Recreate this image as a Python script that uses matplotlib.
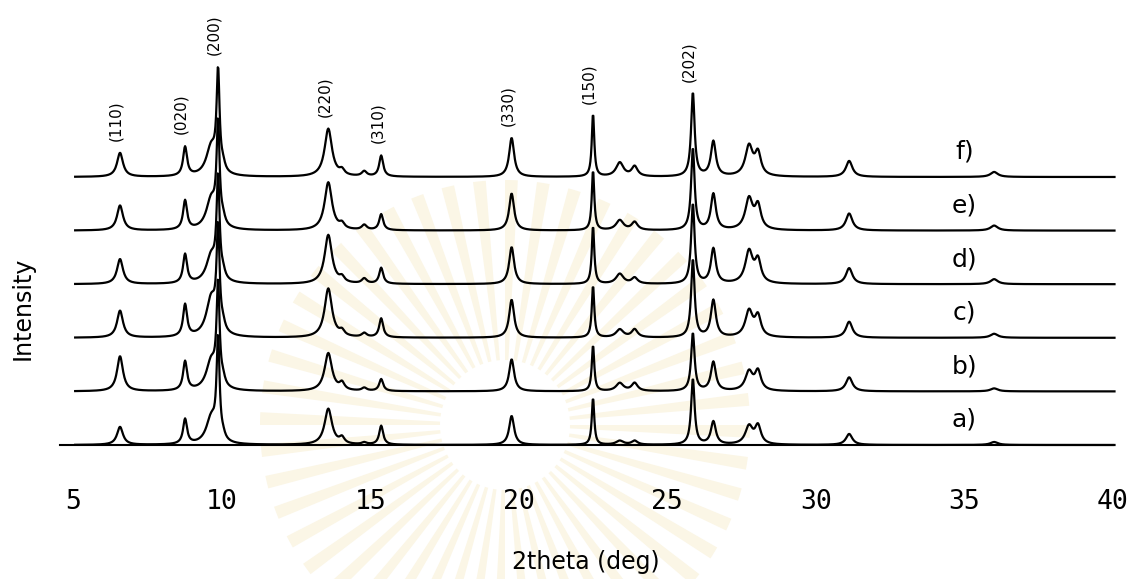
import numpy as np
import matplotlib.pyplot as plt
from matplotlib.patches import Wedge

# reflections seen in every pattern: position (2theta, deg) and half width
peak_pos = [6.58, 8.77, 9.65, 9.88, 10.05, 13.59, 14.05, 14.80, 15.37, 19.76,
            22.50, 23.40, 23.90, 25.86, 26.55, 27.75, 28.05, 31.12, 36.00]
peak_hwhm = [0.12, 0.08, 0.20, 0.06, 0.08, 0.15, 0.10, 0.10, 0.08, 0.10,
             0.05, 0.15, 0.12, 0.07, 0.10, 0.15, 0.12, 0.13, 0.15]

# peak heights for each sample
height_a = [18, 25, 26, 100, 4, 36, 6, 2, 19, 29, 47, 4, 4, 66, 23, 18, 18, 11, 3]
height_b = [35, 29, 29, 100, 6, 38, 7, 3, 12, 32, 46, 8, 8, 58, 29, 19, 19, 14, 3]
height_c = [27, 32, 38, 100, 6, 49, 5, 4, 19, 38, 52, 8, 8, 78, 37, 26, 20, 16, 4]
height_d = [25, 29, 27, 100, 6, 49, 5, 5, 16, 37, 58, 10, 6, 80, 35, 32, 22, 16, 5]
height_e = [25, 29, 30, 100, 6, 48, 5, 5, 16, 37, 60, 10, 8, 82, 36, 31, 23, 17, 5]
height_f = [24, 29, 29, 98, 6, 48, 5, 5, 21, 39, 63, 14, 10, 84, 35, 30, 22, 16, 5]

samples = ["a)", "b)", "c)", "d)", "e)", "f)"]
heights = [height_a, height_b, height_c, height_d, height_e, height_f]

hkl_labels = ["(110)", "(020)", "(200)", "(220)", "(310)", "(330)", "(150)", "(202)"]
hkl_pos = [6.58, 8.77, 9.88, 13.59, 15.37, 19.76, 22.50, 25.86]

tick_vals = [5, 10, 15, 20, 25, 30, 35, 40]

offset_step = 53.6


def pattern(tth, h):
    y = np.zeros_like(tth)
    for x0, w, a in zip(peak_pos, peak_hwhm, h):
        y += a / (1 + ((tth - x0) / w) ** 2)
    return y


fig = plt.figure(figsize=(11.31, 5.79), dpi=100)

# faint emblem behind the plot
bg = fig.add_axes([0, 0, 1, 1], zorder=-1)
bg.set_xlim(0, 1131)
bg.set_ylim(579, 0)
bg.axis("off")
for ang in np.arange(0, 360, 7.5):
    bg.add_patch(Wedge((505, 425), 245, ang, ang + 3, width=180,
                       facecolor="#fbf6e6", edgecolor="none"))

ax = fig.add_axes([60 / 1131, 1 - 445 / 579, 1053 / 1131, 445 / 579])
ax.patch.set_alpha(0)

tth = np.arange(5.07, 40.07, 0.02)
for i, (name, h) in enumerate(zip(samples, heights)):
    off = i * offset_step
    ax.plot(tth, pattern(tth, h) + off, color="black", lw=1.6, clip_on=False)
    ax.text(35.0, off + 25, name, fontsize=18, ha="center", va="center")

# miller indices above the top pattern
top = pattern(tth, height_f) + 5 * offset_step
for lab, p in zip(hkl_labels, hkl_pos):
    near = np.abs(tth - p) < 0.15
    ax.text(p - 0.13, top[near].max() + 12, lab, rotation=90, fontsize=11,
            ha="center", va="bottom")

ax.set_xlim(4.56, 40.0)
ax.set_ylim(0, 445)
for s in ["top", "left", "right"]:
    ax.spines[s].set_visible(False)
ax.spines["bottom"].set_linewidth(1.5)
ax.set_yticks([])
ax.set_xticks(tick_vals)
ax.set_xticklabels([str(t) for t in tick_vals], family="DejaVu Sans Mono", fontsize=19)
ax.tick_params(axis="x", length=0, pad=32)

fig.text(586 / 1131, 1 - 562 / 579, "2theta (deg)", fontsize=17, ha="center", va="center")
fig.text(23 / 1131, 1 - 308 / 579, "Intensity", fontsize=17, rotation=90,
         ha="center", va="center")

fig.savefig("out.png", dpi=100)
